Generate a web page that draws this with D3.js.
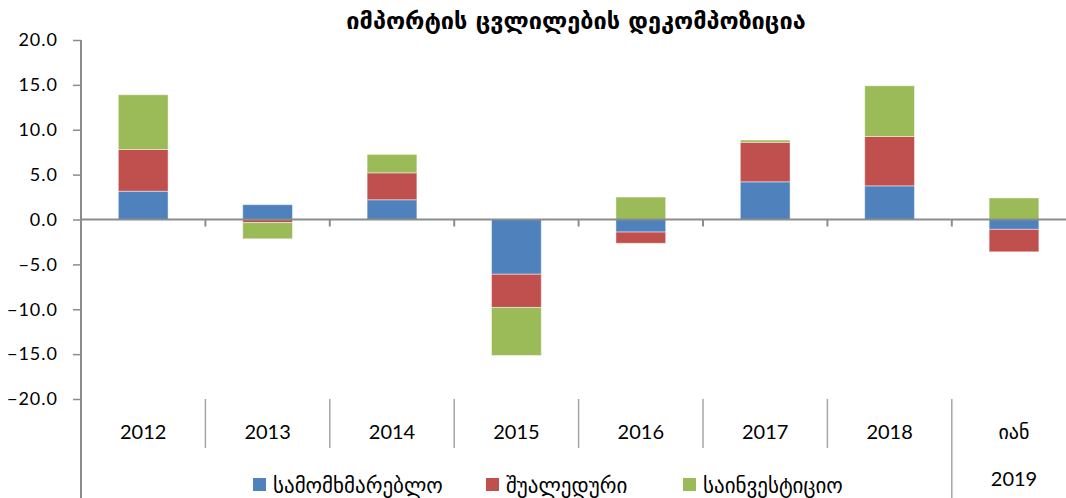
<!DOCTYPE html>
<html>
<head>
<meta charset="utf-8">
<script src="https://cdn.jsdelivr.net/npm/d3@7"></script>
<style>
  body { margin: 0; background: #fff; }
  svg { display: block; }
</style>
</head>
<body>
<svg></svg>
<script>
// import change decomposition, stacked (diverging) bars

let categories = ['2012', '2013', '2014', '2015', '2016', '2017', '2018', 'იან']
let groupLabel = '2019' // second level label under the last category

let consumer = [3.15, 1.65, 2.2, -6.1, -1.4, 4.2, 3.75, -1.1]
let intermediate = [4.65, -0.35, 3.0, -3.7, -1.25, 4.4, 5.5, -2.5]
let investment = [6.1, -1.8, 2.05, -5.35, 2.5, 0.25, 5.65, 2.4]

let seriesNames = ['სამომხმარებლო', 'შუალედური', 'საინვესტიციო']
let colors = ['#4f81bd', '#c0504d', '#9bbb59']
let yTicks = [-20, -15, -10, -5, 0, 5, 10, 15, 20]

let W = 1066, H = 498
let plotLeft = 81, plotTop = 40, plotBottom = 399
let step = 124.4

let svg = d3.select('svg').attr('width', W).attr('height', H)

let rows = categories.map(function(c, i) {
  return {cat: c, s0: consumer[i], s1: intermediate[i], s2: investment[i]}
})

let stack = d3.stack()
  .keys(['s0', 's1', 's2'])
  .offset(d3.stackOffsetDiverging)
let layers = stack(rows)

let x = d3.scaleBand()
  .domain(categories)
  .range([plotLeft, plotLeft + step * categories.length])
  .padding(0)

let y = d3.scaleLinear()
  .domain([-20, 20])
  .range([plotBottom, plotTop])

let barW = x.bandwidth() * 0.4

// bars
svg.append('g').selectAll('g')
  .data(layers)
  .enter().append('g')
    .attr('fill', function(d, i) { return colors[i] })
  .selectAll('rect')
  .data(function(d) { return d })
  .enter().append('rect')
    .attr('x', function(d) { return x(d.data.cat) + (x.bandwidth() - barW) / 2 })
    .attr('width', barW)
    .attr('y', function(d) { return y(Math.max(d[0], d[1])) })
    .attr('height', function(d) { return Math.abs(y(d[0]) - y(d[1])) })
    .attr('stroke', 'rgba(255,255,255,0.45)')
    .attr('stroke-width', 1)

// y axis
let yAxis = svg.append('g')
  .attr('transform', 'translate(' + plotLeft + ',0)')
  .call(d3.axisLeft(y).tickValues(yTicks).tickFormat(d3.format('.1f')).tickSize(8).tickPadding(15))
yAxis.select('.domain').remove()
yAxis.selectAll('line').attr('stroke', '#8c8c8c').attr('stroke-width', 1.5)
yAxis.selectAll('text')
  .attr('font-family', 'Lato, "Liberation Sans", sans-serif')
  .attr('font-size', 18)
  .attr('fill', '#000')
  .style('letter-spacing', '1px')
svg.append('line')
  .attr('x1', plotLeft).attr('x2', plotLeft)
  .attr('y1', plotTop).attr('y2', H)
  .attr('stroke', '#8c8c8c').attr('stroke-width', 2)

// category axis at zero
svg.append('line')
  .attr('x1', plotLeft).attr('x2', W)
  .attr('y1', y(0)).attr('y2', y(0))
  .attr('stroke', '#8c8c8c').attr('stroke-width', 2)
svg.append('g').selectAll('line')
  .data(categories.slice(1))
  .enter().append('line')
    .attr('x1', function(d) { return x(d) }).attr('x2', function(d) { return x(d) })
    .attr('y1', y(0)).attr('y2', y(0) + 7)
    .attr('stroke', '#8c8c8c').attr('stroke-width', 2)

// category labels at the bottom, with separators
svg.append('g').selectAll('line')
  .data(categories.slice(1))
  .enter().append('line')
    .attr('x1', function(d) { return x(d) }).attr('x2', function(d) { return x(d) })
    .attr('y1', plotBottom)
    .attr('y2', function(d, i) { return i == categories.length - 2 ? H : 448 })
    .attr('stroke', '#a6a6a6').attr('stroke-width', 1.5)

svg.append('g').selectAll('text')
  .data(categories)
  .enter().append('text')
    .attr('x', function(d) { return x(d) + x.bandwidth() / 2 })
    .attr('y', 432)
    .attr('dy', '0.35em')
    .attr('text-anchor', 'middle')
    .attr('font-family', function(d) { return /\d/.test(d) ? 'Lato, sans-serif' : '"DejaVu Sans", sans-serif' })
    .attr('font-size', 20)
    .attr('fill', '#000')
    .text(function(d) { return d })

svg.append('text')
  .attr('x', x(categories[categories.length - 1]) + x.bandwidth() / 2)
  .attr('y', 479)
  .attr('dy', '0.35em')
  .attr('text-anchor', 'middle')
  .attr('font-family', 'Lato, sans-serif')
  .attr('font-size', 20)
  .text(groupLabel)

// title
svg.append('text')
  .attr('x', 576)
  .attr('y', 21)
  .attr('dy', '0.35em')
  .attr('text-anchor', 'middle')
  .attr('font-family', '"DejaVu Sans", sans-serif')
  .attr('font-weight', 'bold')
  .attr('font-size', 23.5)
  .text('იმპორტის ცვლილების დეკომპოზიცია')

// legend
let legendX = [253, 486, 683]
let legend = svg.append('g').selectAll('g')
  .data(seriesNames)
  .enter().append('g')
    .attr('transform', function(d, i) { return 'translate(' + legendX[i] + ',478)' })
legend.append('rect')
  .attr('width', 13).attr('height', 13)
  .attr('fill', function(d, i) { return colors[i] })
legend.append('text')
  .attr('x', 20)
  .attr('y', 8)
  .attr('dy', '0.35em')
  .attr('font-family', '"DejaVu Sans", sans-serif')
  .attr('font-size', 21)
  .text(function(d) { return d })
</script>
</body>
</html>
